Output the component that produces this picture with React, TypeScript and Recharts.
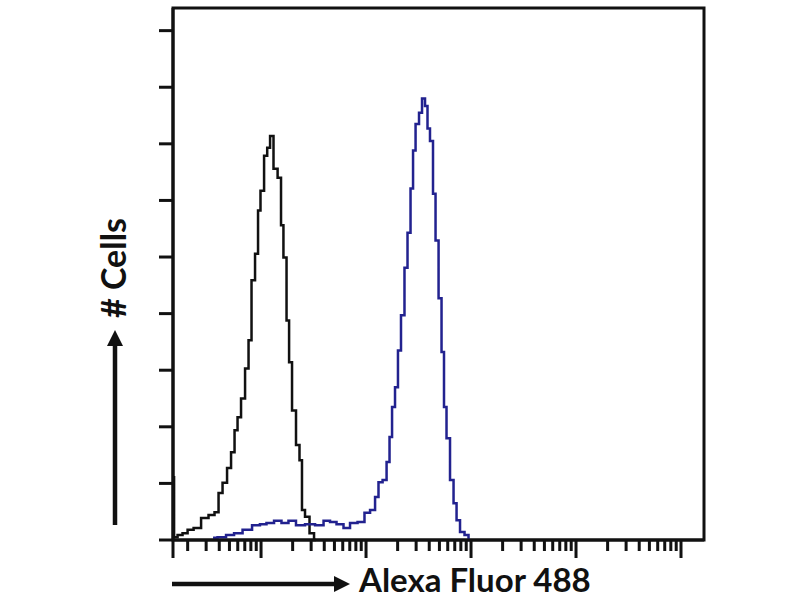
import React from 'react';
import { LineChart, Line, XAxis, YAxis, ReferenceArea } from 'recharts';

// fluorescence intensity (log axis) and cell counts
const controlIntensity = [
  1.45, 1.52, 1.69, 1.89, 2.11, 2.46, 2.93, 3.41, 3.81, 4.07, 4.54, 4.96, 5.41, 5.78,
  6.17, 6.74, 7.36, 7.85, 8.39, 9.16, 9.57, 10.2, 11.2, 11.7, 12.7, 13.6, 15.2, 15.8,
  16.9, 18.1, 18.9, 20.6, 22.5, 24.0, 25.1, 27.4, 30.6, 33.4,
];
const controlCount = [
  11.1, 0.5, 0.9, 1.2, 1.8, 2.1, 3.9, 4.4, 4.9, 8.3, 10.1, 12.7, 15.5, 19.4,
  21.7, 25.0, 30.3, 35.3, 45.9, 50.6, 58.2, 61.7, 67.9, 69.3, 71.4, 65.6, 64.0, 55.6,
  49.9, 38.8, 31.4, 22.9, 16.8, 14.1, 5.3, 4.1, 1.2, 0,
];

const stainedIntensity = [
  3.49, 4.25, 5.07, 6.04, 7.36, 9.16, 10.4, 12.2, 14.5, 16.9, 19.7, 23.5, 29.3, 36.5,
  42.5, 48.5, 56.5, 65.9, 75.2, 91.6, 102, 117, 127, 136, 152, 162, 173, 181, 197, 206,
  225, 240, 257, 274, 287, 306, 334, 349, 381, 389, 425, 444, 475, 507, 541, 565, 604,
  659, 705, 752, 821, 916, 978,
];
const stainedCount = [
  0.4, 0.5, 0.9, 1.2, 1.8, 2.6, 2.8, 3.0, 3.4, 3.0, 3.4, 2.6, 2.8, 2.6,
  3.4, 3.2, 2.8, 2.1, 3.0, 3.2, 4.8, 5.3, 7.6, 10.2, 10.6, 13.8, 18.2, 23.5, 27.0, 33.5,
  39.7, 48.1, 54.3, 62.1, 68.8, 73.5, 75.5, 78.0, 76.7, 72.7, 70.5, 61.2, 52.9, 42.7, 33.2, 23.5, 18.0,
  10.6, 6.5, 3.5, 1.4, 0.9, 0,
];

const xMin = 1.45;
const xMax = 165600;
const yMax = 94;
const decades = [1, 10, 100, 1000, 10000];
const majorTicks = [10, 100, 1000, 10000, 100000];
const minorSteps = [2, 3, 4, 5, 6, 7, 8, 9];
const countTicks = [0, 10, 20, 30, 40, 50, 60, 70, 80, 90];

const xTicks = [xMin]
  .concat(decades.flatMap((d) => minorSteps.map((s) => s * d)))
  .concat(majorTicks)
  .filter((v) => v >= xMin && v <= xMax)
  .sort((a, b) => a - b);

const controlData = controlIntensity.map((x, i) => ({ x, y: controlCount[i] }));
const stainedData = stainedIntensity.map((x, i) => ({ x, y: stainedCount[i] }));

const isMajor = (v: number) => v === xMin || majorTicks.includes(v);

const renderXTick = (props: any) => {
  const { x, y, payload } = props;
  const len = isMajor(payload.value) ? 18 : 11;
  return (
    <g key={`xt-${payload.value}`}>
      <line x1={x} x2={x} y1={y} y2={y + len} stroke="#111" strokeWidth={3} />
    </g>
  );
};

const renderYTick = (props: any) => {
  const { x, y, payload } = props;
  return (
    <g key={`yt-${payload.value}`}>
      <line x1={x - 14} x2={x} y1={y} y2={y} stroke="#111" strokeWidth={3} />
    </g>
  );
};

export default function App() {
  return (
    <div style={{ position: 'absolute', left: 0, top: 0, width: 800, height: 600, background: '#fff' }}>
      <LineChart
        width={800}
        height={600}
        margin={{ top: 8, right: 96, bottom: 30, left: 143 }}
      >
        <XAxis
          dataKey="x"
          type="number"
          scale="log"
          domain={[xMin, xMax]}
          allowDataOverflow
          ticks={xTicks}
          interval={0}
          height={30}
          tickSize={0}
          tickMargin={0}
          tickLine={false}
          tick={renderXTick}
          axisLine={{ stroke: '#111', strokeWidth: 3 }}
        />
        <YAxis
          type="number"
          domain={[0, yMax]}
          ticks={countTicks}
          interval={0}
          width={30}
          tickSize={0}
          tickMargin={0}
          tickLine={false}
          tick={renderYTick}
          axisLine={{ stroke: '#111', strokeWidth: 3 }}
        />
        <ReferenceArea
          x1={xMin}
          x2={xMax}
          y1={0}
          y2={yMax}
          fill="none"
          stroke="#111"
          strokeWidth={3}
          ifOverflow="visible"
        />
        <Line
          data={controlData}
          dataKey="y"
          type="step"
          stroke="#111"
          strokeWidth={2.5}
          dot={false}
          isAnimationActive={false}
        />
        <Line
          data={stainedData}
          dataKey="y"
          type="step"
          stroke="#22228f"
          strokeWidth={2.5}
          dot={false}
          isAnimationActive={false}
        />
      </LineChart>
      <svg
        width={800}
        height={600}
        style={{ position: 'absolute', left: 0, top: 0, pointerEvents: 'none' }}
      >
        <line x1={115} x2={115} y1={525} y2={344} stroke="#111" strokeWidth={4.5} />
        <polygon points="107,346 115,330 123,346" fill="#111" />
        <text
          x={126}
          y={268}
          transform="rotate(-90 126 268)"
          textAnchor="middle"
          fontFamily="Lato, sans-serif"
          fontWeight="bold"
          fontSize={34}
          fill="#111"
        >
          # Cells
        </text>
        <line x1={172} x2={336} y1={584} y2={584} stroke="#111" strokeWidth={4.5} />
        <polygon points="334,576 350,584 334,592" fill="#111" />
        <text
          x={359}
          y={592}
          fontFamily="Lato, sans-serif"
          fontWeight="bold"
          fontSize={33}
          fill="#111"
        >
          Alexa Fluor 488
        </text>
      </svg>
    </div>
  );
}
